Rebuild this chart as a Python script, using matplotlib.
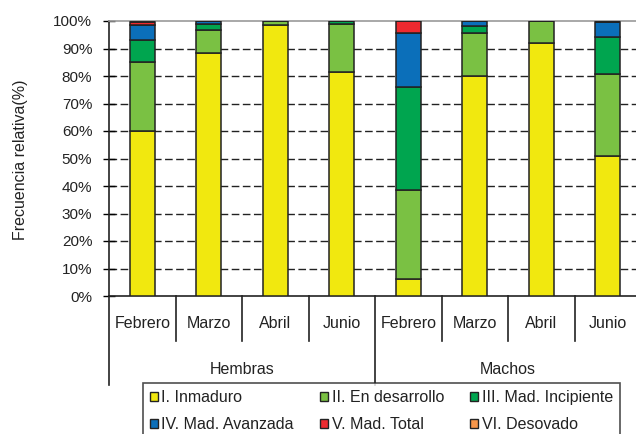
import matplotlib
matplotlib.use("Agg")
import matplotlib.pyplot as plt
import matplotlib.transforms as mtrans
from matplotlib.lines import Line2D
from matplotlib.patches import Patch
import numpy as np

plt.rcParams["font.family"] = ["Liberation Sans", "DejaVu Sans"]

# ── datos ─────────────────────────────────────────────
meses = ["Febrero", "Marzo", "Abril", "Junio", "Febrero", "Marzo", "Abril", "Junio"]
grupos = ["Hembras", "Machos"]
estadios = ["I. Inmaduro", "II. En desarrollo", "III. Mad. Incipiente",
            "IV. Mad. Avanzada", "V. Mad. Total", "VI. Desovado"]

inmaduro   = [60.0, 88.2, 98.5, 81.4, 6.2, 80.1, 91.9, 51.0]
desarrollo = [25.0, 8.5, 1.5, 17.4, 32.2, 15.4, 8.1, 29.6]
incipiente = [8.0, 2.3, 0.0, 1.2, 37.6, 2.7, 0.0, 13.5]
avanzada   = [5.5, 1.0, 0.0, 0.0, 19.5, 1.8, 0.0, 5.4]
total      = [1.0, 0.0, 0.0, 0.0, 4.5, 0.0, 0.0, 0.0]
desovado   = [0.0, 0.0, 0.0, 0.0, 0.0, 0.0, 0.0, 0.0]

colores = ["#F1E80F", "#7AC143", "#00A54F", "#0B6FBA", "#EE2A2F", "#F7964A"]

W, H = 636, 434
FS = 11.5
fig = plt.figure(figsize=(W / 100, H / 100), dpi=100)
# eje desde x=109 hasta x=641 (se sale un poco por la derecha, como el original)
ax = fig.add_axes([109 / W, (H - 296) / H, 532 / W, 275 / H])

x = np.arange(len(meses))
base = np.zeros(len(meses))
for serie, c in zip([inmaduro, desarrollo, incipiente, avanzada, total, desovado], colores):
    v = np.array(serie)
    ax.bar(x, v, 0.376, bottom=base, color=c, edgecolor="#222222", linewidth=1.1, zorder=3)
    base += v

ax.set_xlim(-0.5, len(meses) - 0.5)
ax.set_ylim(0, 100)
ax.set_yticks(np.arange(0, 101, 10))
ax.set_yticklabels([f"{v}%" for v in range(0, 101, 10)], fontsize=11, color="#222")
ax.tick_params(axis="y", direction="inout", length=8, width=1.0, pad=8)
ax.set_xticks([])

for yv in range(10, 100, 10):
    ax.axhline(yv, color="#222", lw=1.0, ls=(0, (5.5, 2.5)), zorder=1)

ax.spines["top"].set_color("#999999")
ax.spines["top"].set_linewidth(1.2)
ax.spines["right"].set_visible(False)
ax.spines["left"].set_color("#222")
ax.spines["bottom"].set_color("#222")
ax.spines["left"].set_linewidth(1.2)
ax.spines["bottom"].set_linewidth(1.2)

# eje de categorías en dos niveles
tr = mtrans.blended_transform_factory(ax.transData, fig.transFigure)
fy = lambda py: (H - py) / H
for b in [0.5, 1.5, 2.5, 4.5, 5.5, 6.5]:
    fig.add_artist(Line2D([b, b], [fy(296), fy(341)], transform=tr, color="#222", lw=1.2))
for b in [-0.5, 3.5, 7.5]:
    fig.add_artist(Line2D([b, b], [fy(296), fy(385)], transform=tr, color="#222", lw=1.2))
for xi, m in zip(x, meses):
    fig.text(xi, fy(323), m, transform=tr, ha="center", va="center", fontsize=FS, color="#222")
for gi, g in enumerate(grupos):
    fig.text(1.5 + 4 * gi, fy(369), g, transform=tr, ha="center", va="center",
             fontsize=FS, color="#222")

fig.text(21 / W, fy(160), "Frecuencia relativa(%)", rotation=90, ha="center", va="center",
         fontsize=FS, color="#222")

# leyenda en orden por filas (matplotlib rellena por columnas)
orden = [0, 3, 1, 4, 2, 5]
handles = [Patch(facecolor=colores[i], edgecolor="#222", lw=1.0) for i in orden]
labels = [estadios[i] for i in orden]
leg = fig.legend(handles, labels, ncol=3, loc="upper left",
                 bbox_to_anchor=(143 / W, fy(383) - 0.3, (620 - 143) / W, 0.3),
                 mode="expand", fontsize=FS, frameon=True, fancybox=False,
                 handlelength=0.5, handleheight=0.5, handletextpad=0.2,
                 labelspacing=0.75, borderpad=0.45, borderaxespad=0)
leg.get_frame().set_edgecolor("#222")
leg.get_frame().set_linewidth(1.2)
for t in leg.get_texts():
    t.set_color("#222")

fig.savefig("out.png", dpi=100)
